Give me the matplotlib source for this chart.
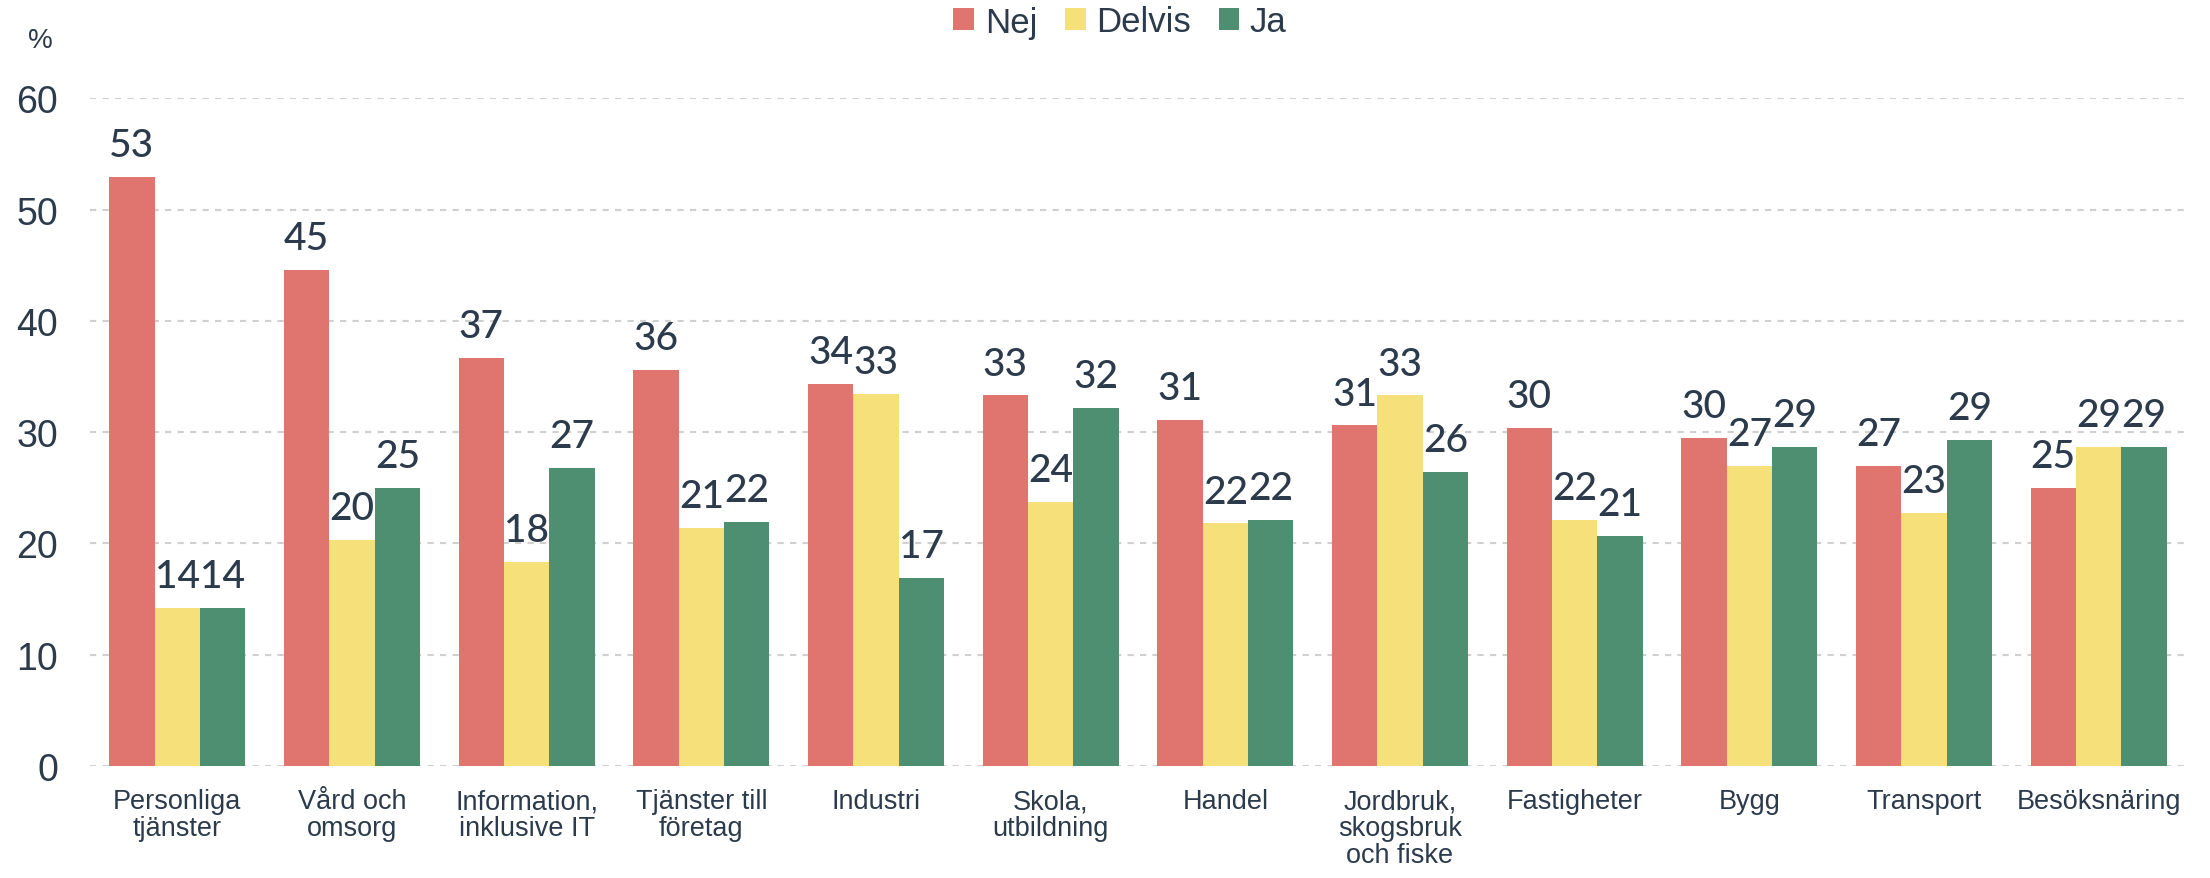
import matplotlib
matplotlib.use("Agg")
import matplotlib.pyplot as plt
import numpy as np
from matplotlib.patches import Patch

categories = ["Personliga\ntjänster", "Vård och\nomsorg", "Information,\ninklusive IT",
              "Tjänster till\nföretag", "Industri", "Skola,\nutbildning", "Handel",
              "Jordbruk,\nskogsbruk\noch fiske", "Fastigheter", "Bygg", "Transport",
              "Besöksnäring"]
series_names = ["Nej", "Delvis", "Ja"]
nej = [52.9, 44.6, 36.7, 35.6, 34.35, 33.3, 31.1, 30.6, 30.4, 29.5, 27.0, 25.0]
delvis = [14.2, 20.3, 18.3, 21.4, 33.45, 23.7, 21.8, 33.3, 22.1, 27.0, 22.7, 28.65]
ja = [14.2, 25.0, 26.8, 21.9, 16.9, 32.2, 22.1, 26.4, 20.7, 28.65, 29.3, 28.65]
yticks = [0, 10, 20, 30, 40, 50, 60]

colors = ["#E0746E", "#F5E07A", "#4E8F72"]
text_color = "#2C3B4C"

fig = plt.figure(figsize=(22.10, 8.79), dpi=100)
ax = fig.add_axes([90/2210, 1 - 767/879, (2186-90)/2210, (767-99.3)/879])

x = np.arange(len(categories))
w = 0.26
for i, (vals, c) in enumerate(zip([nej, delvis, ja], colors)):
    pos = x + (i - 1) * w
    ax.bar(pos, vals, width=w, color=c, zorder=2)
    for xp, v in zip(pos, vals):
        ax.annotate(f"{round(v):d}", (xp, v), xytext=(0, 10), textcoords="offset points",
                    ha="center", va="bottom", fontsize=28, family="Lato", fontweight="medium",
                    color=text_color, annotation_clip=False)

ax.set_xlim(-0.5, len(categories) - 0.5)
ax.set_ylim(0, 60)
ax.set_yticks(yticks)
ax.set_yticklabels([str(t) for t in yticks], fontsize=27, family="Liberation Sans", color=text_color)
ax.set_xticks(x)
ax.set_xticklabels(categories, fontsize=19.5, family="Liberation Sans", color=text_color,
                   linespacing=1.05, va="top")
ax.tick_params(axis="y", length=0, pad=23)
ax.tick_params(axis="x", length=0, pad=16)
for s in ax.spines.values():
    s.set_visible(False)
ax.set_axisbelow(True)
ax.yaxis.grid(True, color="#D0D0D0", linewidth=1.5, linestyle=(0, (3, 3)), zorder=0)
ax.xaxis.grid(False)

fig.text(40/2210, 1 - 41/879, "%", fontsize=20, family="Liberation Sans", color=text_color,
         ha="center", va="center")

handles = [Patch(facecolor=c, edgecolor="none") for c in colors]
fig.legend(handles, series_names, loc="center", bbox_to_anchor=(1120/2210, 1 - 23/879),
           ncol=3, frameon=False, prop={"family": "Liberation Sans", "size": 25},
           labelcolor=text_color, handlelength=0.6, handleheight=0.6,
           handletextpad=0.3, columnspacing=0.8, borderpad=0)

fig.savefig("out.png", dpi=100)
